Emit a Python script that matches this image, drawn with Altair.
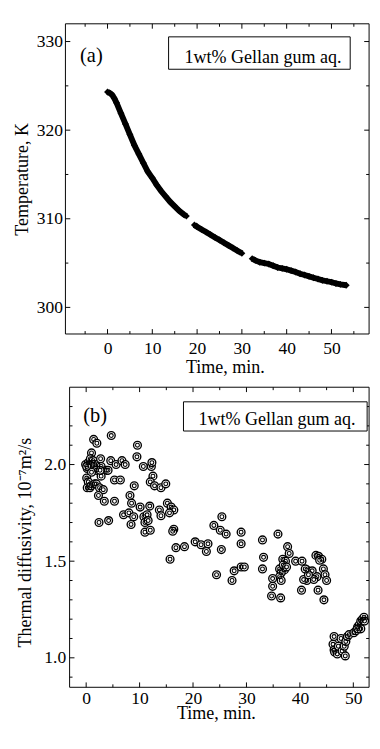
import altair as alt
import pandas as pd

FONT = "Liberation Serif"

# ---------- (a) temperature readings: three recorded stretches ----------
temp_time_1 = [0.0, 0.5, 1.0, 1.5, 2.0, 3.0, 4.0, 5.0, 6.0, 7.0, 8.0, 9.0, 10.0,
               11.0, 12.0, 13.0, 14.0, 15.0, 16.0, 17.0, 17.6]
temp_val_1 = [324.3, 324.2, 324.0, 323.6, 323.1, 321.9, 320.7, 319.5, 318.3, 317.3,
              316.3, 315.3, 314.6, 313.8, 313.1, 312.5, 311.9, 311.4, 310.9, 310.5, 310.3]
temp_time_2 = [19.4, 20.0, 21.0, 22.0, 23.0, 24.0, 25.0, 26.0, 27.0, 28.0, 29.0, 30.0]
temp_val_2 = [309.3, 309.1, 308.8, 308.5, 308.2, 307.9, 307.6, 307.3, 307.0, 306.7,
              306.4, 306.1]
temp_time_3 = [32.3, 33.0, 34.0, 35.0, 36.0, 37.0, 38.0, 39.0, 40.0, 41.0, 42.0, 43.0,
               44.0, 45.0, 46.0, 47.0, 48.0, 49.0, 50.0, 51.0, 52.0, 53.3]
temp_val_3 = [305.5, 305.3, 305.1, 305.0, 304.9, 304.7, 304.5, 304.4, 304.3, 304.15,
              304.0, 303.8, 303.65, 303.5, 303.35, 303.2, 303.05, 302.95, 302.85,
              302.7, 302.6, 302.5]

# ---------- (b) thermal diffusivity readings ----------
diff_time = [
    1.4, 2.0, 4.7, 1.0, -0.1, 0.2, 0.4, 0.7, 0.8, 1.3, 1.3, 1.6, 2.2, 2.7, 2.8, 1.9,
    1.0, 0.1, 0.4, 0.2, 0.7, 0.9, 1.6, 1.9, 2.5, 3.2, 2.8, 3.8, 4.1, 4.6, 2.3, 3.4,
    2.4, 4.2, 0.1, 2.6,
    5.6, 6.7, 7.3, 5.3, 6.4, 5.3, 9.6, 9.5, 8.2, 9.0, 8.5, 7.0, 8.0, 8.9, 8.4,
    10.1, 11.9, 10.7, 12.2, 12.3, 12.5, 12.0, 12.8, 14.0, 14.9, 10.8, 11.0, 11.4,
    11.0, 12.0, 11.6, 13.7, 14.0, 15.2, 15.9, 16.4, 15.6, 16.4, 16.2, 15.7,
    16.8, 18.4, 20.4, 21.5, 22.8, 22.5, 25.3, 25.4, 23.9, 25.1, 26.2, 29.0, 29.0,
    24.4, 27.7, 29.0, 29.6, 27.3,
    33.0, 35.9, 33.2, 33.0, 37.7, 38.0, 36.8, 37.3, 39.2, 40.4, 36.2, 37.1, 36.5,
    36.2, 34.9, 36.5, 34.9, 34.7, 36.4, 43.0, 43.5, 44.1, 43.7, 41.3, 42.3, 44.4,
    44.7, 45.0, 43.2, 42.6, 41.3, 40.7, 41.6, 40.3, 43.4, 44.5, 41.0, 36.9, 37.5,
    46.4, 46.2, 46.4, 46.5, 47.0, 47.2, 47.7, 47.9, 48.3, 48.5, 48.6, 48.9, 49.2,
    50.1, 50.5, 50.8, 51.1, 51.4, 51.7, 52.0, 51.4, 50.8, 52.1,
]
diff_value = [
    2.13, 2.11, 2.15, 2.06, 2.00, 1.98, 2.01, 2.01, 2.03, 2.02, 2.00, 2.00, 2.00, 2.03,
    1.99, 1.97, 1.96, 1.93, 1.91, 1.88, 1.88, 1.89, 1.90, 1.90, 1.88, 1.87, 1.94, 1.97,
    1.97, 2.02, 1.84, 1.81, 1.70, 1.71, 1.99, 1.97,
    2.00, 2.02, 2.00, 1.92, 1.92, 1.81, 2.10, 2.04, 1.84, 1.89, 1.80, 1.74, 1.75, 1.73,
    1.69,
    1.78, 1.785, 1.99, 1.99, 2.01, 1.94, 1.91, 1.89, 1.88, 1.90, 1.73, 1.70, 1.74,
    1.65, 1.66, 1.71, 1.765, 1.735, 1.80, 1.78, 1.765, 1.75, 1.665, 1.655, 1.51,
    1.57, 1.575, 1.60, 1.585, 1.59, 1.55, 1.56, 1.73, 1.685, 1.66, 1.64, 1.65, 1.59,
    1.43, 1.45, 1.47, 1.47, 1.40,
    1.61, 1.64, 1.52, 1.46, 1.575, 1.54, 1.51, 1.50, 1.50, 1.50, 1.46, 1.455, 1.44,
    1.42, 1.41, 1.40, 1.37, 1.32, 1.31, 1.53, 1.525, 1.51, 1.505, 1.455, 1.45, 1.46,
    1.43, 1.40, 1.42, 1.405, 1.40, 1.405, 1.43, 1.35, 1.35, 1.30, 1.46, 1.48, 1.47,
    1.11, 1.07, 1.04, 1.03, 1.02, 1.06, 1.10, 1.035, 1.06, 1.01, 1.085, 1.11, 1.12,
    1.13, 1.14, 1.16, 1.17, 1.19, 1.20, 1.21, 1.15, 1.15, 1.19,
]

# ---------- tick positions ----------
x_major_a = [0, 10, 20, 30, 40, 50]
x_minor_a = [-5, 5, 15, 25, 35, 45, 55]
y_major_a = [300, 310, 320, 330]
y_minor_a = [305, 315, 325]
x_major_b = [0, 10, 20, 30, 40, 50]
x_minor_b = [5, 15, 25, 35, 45]
y_major_b = [1.0, 1.5, 2.0]
y_minor_b = [0.9, 1.1, 1.2, 1.3, 1.4, 1.6, 1.7, 1.8, 1.9, 2.1, 2.2, 2.3]

label_text = "1wt% Gellan gum aq."

# ---------- geometry of the two stacked panels (pixels inside one view) ----------
W = 312.0
H = 681.7
A_X0, A_X1, A_Y0, A_Y1 = 0.0, 312.0, 0.0, 318.7        # panel (a) frame
B_X0, B_X1, B_Y0, B_Y1 = 4.3, 312.0, 373.4, 681.7      # panel (b) frame

xa = alt.Scale(domain=[-9.4, 58.4], range=[A_X0, A_X1], nice=False, zero=False)
ya = alt.Scale(domain=[297, 332], range=[A_Y1, A_Y0], nice=False, zero=False)
xb = alt.Scale(domain=[-3.1, 52.95], range=[B_X0, B_X1], nice=False, zero=False)
yb = alt.Scale(domain=[0.8476, 2.4], range=[B_Y1, B_Y0], nice=False, zero=False)

axis_xa = alt.Axis(values=x_major_a, title="Time, min.", orient="bottom",
                   offset=-(H - A_Y1), labelPadding=6, titlePadding=1, titleX=163.8)
axis_ya = alt.Axis(values=y_major_a, title="Temperature, K", orient="left",
                   labelPadding=3, titlePadding=4.7, titleY=(A_Y0 + A_Y1) / 2)
axis_xb = alt.Axis(values=x_major_b, title="Time, min.", orient="bottom",
                   labelPadding=3, titleX=154.6, titleY=17, titleBaseline="top")
axis_yb = alt.Axis(values=y_major_b, format=".1f", title="Thermal diffusivity, 10⁻⁷m²/s",
                   orient="left", offset=-B_X0, labelPadding=4, titlePadding=9.5,
                   titleY=(B_Y0 + 691.7) / 2)


def tick_layers(xmaj, xmin, ymaj, ymin, xs, ys, x0, x1, y0, y1):
    out = []
    for vals, L in [(xmaj, 5), (xmin, 3)]:
        base = alt.Chart(pd.DataFrame({"v": vals})).mark_rule(color="black", strokeWidth=1)
        out.append(base.encode(x=alt.X("v:Q", scale=xs, axis=None),
                               y=alt.value(y1), y2=alt.value(y1 - L)))
        out.append(base.encode(x=alt.X("v:Q", scale=xs, axis=None),
                               y=alt.value(y0), y2=alt.value(y0 + L)))
    for vals, L in [(ymaj, 5), (ymin, 3)]:
        base = alt.Chart(pd.DataFrame({"v": vals})).mark_rule(color="black", strokeWidth=1)
        out.append(base.encode(y=alt.Y("v:Q", scale=ys, axis=None),
                               x=alt.value(x0), x2=alt.value(x0 + L)))
        out.append(base.encode(y=alt.Y("v:Q", scale=ys, axis=None),
                               x=alt.value(x1), x2=alt.value(x1 - L)))
    return out


one = pd.DataFrame({"k": [0]})


def frame(x0, x1, y0, y1):
    return alt.Chart(one).mark_rect(fillOpacity=0, stroke="black", strokeWidth=1).encode(
        x=alt.value(x0), x2=alt.value(x1), y=alt.value(y0), y2=alt.value(y1))


def annotation(panel_label, lx, ly, bx0, bx1, by0, by1, tx, ty):
    box = alt.Chart(one).mark_rect(fill="white", stroke="black", strokeWidth=1).encode(
        x=alt.value(bx0), x2=alt.value(bx1), y=alt.value(by0), y2=alt.value(by1))
    txt = alt.Chart(one).mark_text(font=FONT, fontSize=18.5, align="center",
                                   baseline="alphabetic", color="black").encode(
        x=alt.value(tx), y=alt.value(ty), text=alt.value(label_text))
    lab = alt.Chart(one).mark_text(font=FONT, fontSize=21, align="left",
                                   baseline="alphabetic", color="black").encode(
        x=alt.value(lx), y=alt.value(ly), text=alt.value(panel_label))
    return [box, txt, lab]


# ---------- panel (a) ----------
rows = []
for seg, (ts, vs) in enumerate([(temp_time_1, temp_val_1), (temp_time_2, temp_val_2),
                                (temp_time_3, temp_val_3)]):
    for t, v in zip(ts, vs):
        rows.append({"time": t, "temp": v, "seg": seg})
dfa = pd.DataFrame(rows)

line_a = alt.Chart(dfa).mark_line(color="black", strokeWidth=6).encode(
    x=alt.X("time:Q", scale=xa, axis=axis_xa),
    y=alt.Y("temp:Q", scale=ya, axis=axis_ya), detail="seg:N")
pts_a = alt.Chart(dfa).mark_point(shape="diamond", filled=True, color="black",
                                  size=50, opacity=1).encode(
    x=alt.X("time:Q", scale=xa, axis=None), y=alt.Y("temp:Q", scale=ya, axis=None))

# ---------- panel (b) ----------
dfb = pd.DataFrame({"time": diff_time, "diff": diff_value})
outer_b = alt.Chart(dfb).mark_point(shape="circle", filled=False, fill="white",
                                    fillOpacity=1, stroke="black", strokeWidth=1.4,
                                    size=64, opacity=1).encode(
    x=alt.X("time:Q", scale=xb, axis=axis_xb), y=alt.Y("diff:Q", scale=yb, axis=axis_yb))
inner_b = alt.Chart(dfb).mark_point(shape="circle", filled=False, stroke="black",
                                    strokeWidth=1.1, size=16, opacity=1).encode(
    x=alt.X("time:Q", scale=xb, axis=None), y=alt.Y("diff:Q", scale=yb, axis=None))

layers = [
    line_a, pts_a,
    *tick_layers(x_major_a, x_minor_a, y_major_a, y_minor_a, xa, ya, A_X0, A_X1, A_Y0, A_Y1),
    frame(A_X0, A_X1, A_Y0, A_Y1),
    *annotation("(a)", 15, 39.5, 106, 292.6, 13.4, 46.7, 203, 40),
    outer_b, inner_b,
    *tick_layers(x_major_b, x_minor_b, y_major_b, y_minor_b, xb, yb, B_X0, B_X1, B_Y0, B_Y1),
    frame(B_X0, B_X1, B_Y0, B_Y1),
    *annotation("(b)", 18.3, 409.4, 121.3, 310.0, 388.4, 418.4, 217.3, 412.7),
]

chart = alt.layer(*layers).resolve_scale(
    x="independent", y="independent"
).resolve_axis(
    x="independent", y="independent"
).properties(
    width=W, height=H,
    padding={"left": 5, "top": 5.3, "right": 0, "bottom": 0},
).configure_view(strokeWidth=0).configure_axis(
    ticks=False, domain=False, grid=False,
    labelFont=FONT, labelFontSize=18, labelColor="black",
    titleFont=FONT, titleFontSize=18.5, titleFontWeight="normal", titleColor="black",
    labelFlush=False,
)

chart.save("out.html", embed_options={"renderer": "svg", "actions": False})
